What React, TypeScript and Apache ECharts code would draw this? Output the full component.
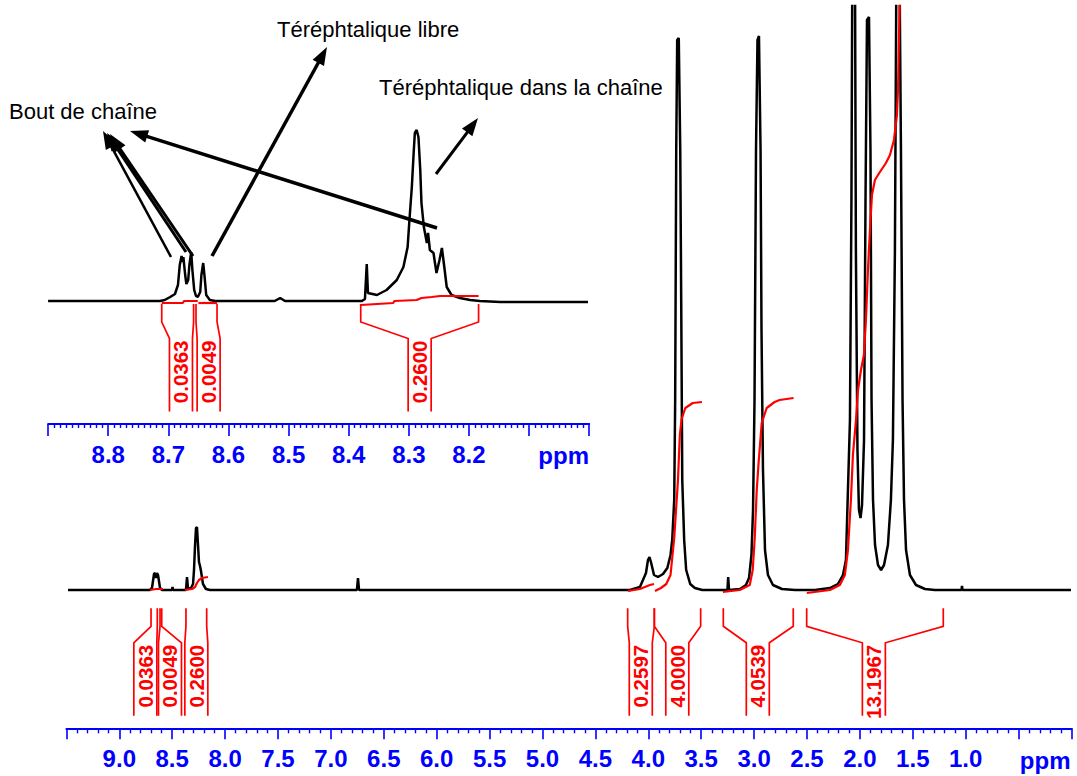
import React, { useEffect, useRef } from "react";
import * as echarts from "echarts";

const FONT = "'Liberation Sans', Arial, sans-serif";
const BLUE = "#0000ff";
const RED = "#ff0000";

// ---------- main spectrum: [ppm, intensity] ----------
const mainSpectrum: [number, number][] = [
  [9.485, 0], [8.71, 0], [8.691, 2], [8.672, 16], [8.662, 17], [8.653, 12], [8.644, 17], [8.634, 15], [8.615, 2], [8.596, 0],
  [8.502, 0], [8.497, 3], [8.492, 0],
  [8.37, 0], [8.36, 13], [8.35, 1], [8.322, 2], [8.303, 6], [8.294, 20], [8.284, 45], [8.275, 62], [8.266, 63], [8.256, 45],
  [8.247, 28], [8.237, 24], [8.228, 19], [8.209, 6], [8.181, 1], [8.143, 0],
  [6.754, 0], [6.744, 12], [6.734, 0],
  [4.173, 0], [4.079, 3], [4.022, 17], [4.003, 30], [3.989, 33], [3.975, 28], [3.946, 15], [3.908, 13], [3.861, 16],
  [3.82, 22], [3.79, 35], [3.774, 50], [3.755, 90], [3.746, 190], [3.736, 440], [3.727, 550], [3.712, 552], [3.698, 440],
  [3.689, 290], [3.679, 110], [3.661, 50], [3.642, 20], [3.604, 6], [3.56, 2], [3.49, 0],
  [3.252, 0], [3.245, 13], [3.237, 0],
  [3.133, 1], [3.077, 5], [3.048, 12], [3.025, 35], [3.01, 80], [2.996, 190], [2.982, 440], [2.968, 550], [2.954, 554],
  [2.939, 440], [2.93, 260], [2.916, 120], [2.897, 40], [2.869, 15], [2.822, 5], [2.737, 1], [2.614, 0],
  [2.425, 0], [2.283, 2], [2.208, 6], [2.16, 15], [2.132, 30], [2.113, 100], [2.094, 170], [2.08, 390], [2.071, 640],
  [2.047, 640], [2.038, 340], [2.023, 140], [2.009, 80], [1.994, 72], [1.98, 85], [1.961, 150], [1.947, 390], [1.933, 570],
  [1.914, 573], [1.9, 440], [1.89, 190], [1.876, 90], [1.857, 45], [1.829, 25], [1.8, 20], [1.772, 25], [1.735, 45],
  [1.707, 90], [1.688, 150], [1.669, 340], [1.654, 640], [1.627, 640], [1.612, 440], [1.597, 190], [1.583, 90],
  [1.564, 40], [1.527, 15], [1.47, 5], [1.385, 1], [1.291, 0],
  [1.04, 0], [1.035, 4], [1.03, 0], [0.005, 0],
];

// integral curves of the main spectrum (null = break)
const mainIntegral: ([number, number] | null)[] = [
  [8.71, 0], [8.653, 1], [8.587, 1], null,
  [8.379, 0], [8.313, 1], [8.284, 3], [8.266, 7], [8.247, 10], [8.218, 12], [8.162, 13], null,
  [4.193, -1], [4.079, 1], [3.985, 5], [3.946, 6], null,
  [3.937, -1], [3.88, 2], [3.83, 6], [3.79, 15], [3.755, 52], [3.72, 109], [3.702, 155], [3.685, 171],
  [3.65, 182], [3.58, 187], [3.493, 188], null,
  [3.295, -2], [3.135, 0], [3.041, 5], [3.013, 20], [2.994, 52], [2.975, 100], [2.957, 128], [2.928, 167],
  [2.881, 182], [2.806, 188], [2.759, 190], [2.627, 192], null,
  [2.502, -3], [2.283, 0], [2.189, 5], [2.142, 15], [2.113, 40], [2.085, 90], [2.066, 135], [2.037, 170],
  [2.018, 200], [1.99, 220], [1.962, 235], [1.943, 270], [1.924, 320], [1.905, 360], [1.886, 395], [1.858, 410],
  [1.811, 418], [1.754, 427], [1.716, 435], [1.678, 450], [1.65, 475], [1.64, 500], [1.631, 550], [1.621, 600],
];

const mainBracketStart = [8.7, 8.615, 8.37, 4.195, 3.943, 3.291, 2.503];
const mainBracketEnd = [8.641, 8.599, 8.174, 3.943, 3.505, 2.63, 1.212];
const mainBracketCenter = [8.754, 8.521, 8.272, 4.071, 3.726, 2.965, 1.868];
const mainBracketLabels = ["0.0363", "0.0049", "0.2600", "0.2597", "4.0000", "4.0539", "13.1967"];

// ---------- inset (zoom 8.0 – 8.9 ppm) ----------
const insetSpectrum: [number, number][] = [
  [8.9, 0], [8.714, 0], [8.706, 1], [8.697, 4], [8.689, 7], [8.684, 16], [8.681, 36], [8.678, 45], [8.676, 39],
  [8.675, 44], [8.672, 26], [8.67, 17], [8.667, 21], [8.665, 36], [8.662, 49], [8.66, 31], [8.657, 11], [8.654, 5],
  [8.651, 4], [8.647, 9], [8.645, 26], [8.642, 38], [8.64, 26], [8.637, 6], [8.631, 1], [8.622, 0],
  [8.523, 0], [8.514, 3], [8.506, 0],
  [8.378, 0], [8.373, 2], [8.37, 37], [8.368, 8], [8.353, 6], [8.337, 11], [8.32, 21], [8.309, 34], [8.302, 54],
  [8.299, 81], [8.295, 114], [8.292, 148], [8.29, 168], [8.287, 171], [8.284, 164], [8.281, 131], [8.279, 98],
  [8.275, 74], [8.27, 58], [8.268, 68], [8.265, 51], [8.259, 48], [8.254, 28], [8.249, 41], [8.245, 53], [8.241, 34],
  [8.237, 14], [8.229, 6], [8.215, 3], [8.198, 1], [8.182, 0], [8.148, -1], [8.002, -1],
];

const insetIntegral: ([number, number] | null)[] = [
  [8.711, -2], [8.676, -2], [8.674, 0], [8.651, 0], null,
  [8.65, -2], [8.619, -2], null,
  [8.38, -4], [8.326, -2], [8.324, 0], [8.287, 1], [8.279, 3], [8.262, 4], [8.248, 5], [8.184, 5],
];

const insetBracketStart = [8.711, 8.654, 8.38];
const insetBracketEnd = [8.658, 8.619, 8.184];
const insetBracketCenter = [8.679, 8.633, 8.282];
const insetBracketLabels = ["0.0363", "0.0049", "0.2600"];

// ---------- annotations ----------
const annotationTexts = ["Bout de chaîne", "Téréphtalique libre", "Téréphtalique dans la chaîne"];

function splitSegments(arr: ([number, number] | null)[]) {
  const segs: [number, number][][] = [];
  let cur: [number, number][] = [];
  for (const p of arr) {
    if (p === null) {
      if (cur.length) segs.push(cur);
      cur = [];
    } else cur.push(p);
  }
  if (cur.length) segs.push(cur);
  return segs;
}

function bracketSeries(idx: number, starts: number[], ends: number[], centers: number[], labels: string[]) {
  return {
    type: "custom",
    xAxisIndex: idx,
    yAxisIndex: idx,
    silent: true,
    z: 5,
    data: starts.map((s, i) => [s, ends[i], centers[i], 0]),
    encode: { x: [0, 1, 2], y: 3 },
    renderItem: (params: any, api: any) => {
      const i = params.dataIndex;
      const cs = params.coordSys;
      const axisY = cs.y + cs.height;
      const xa = api.coord([api.value(0), 0])[0];
      const xb = api.coord([api.value(1), 0])[0];
      const xc = api.coord([api.value(2), 0])[0];
      const l = Math.min(xa, xb);
      const r = Math.max(xa, xb);
      const yTop = axisY - 120;
      const yKnee = axisY - 102;
      const yLeg = axisY - 85.5;
      const yBot = axisY - 12.5;
      const hw = 11.5;
      const ls = { stroke: RED, lineWidth: 1.7, fill: "none" };
      return {
        type: "group",
        children: [
          { type: "polyline", shape: { points: [[l, yTop], [l, yKnee], [xc - hw, yLeg], [xc - hw, yBot]] }, style: ls },
          { type: "polyline", shape: { points: [[r, yTop], [r, yKnee], [xc + hw, yLeg], [xc + hw, yBot]] }, style: ls },
          {
            type: "text",
            x: xc,
            y: axisY - 83.5,
            rotation: Math.PI / 2,
            style: {
              text: labels[i],
              align: "right",
              verticalAlign: "middle",
              textAlign: "right",
              textVerticalAlign: "middle",
              font: `bold 20.5px ${FONT}`,
              fill: RED,
            },
          },
        ],
      };
    },
  };
}

function arrow(x1: number, y1: number, x2: number, y2: number, w: number) {
  const dx = x2 - x1;
  const dy = y2 - y1;
  const len = Math.sqrt(dx * dx + dy * dy);
  const ux = dx / len;
  const uy = dy / len;
  const hl = 18;
  const hh = 6.5;
  const bx = x2 - ux * hl;
  const by = y2 - uy * hl;
  return [
    { type: "line", shape: { x1, y1, x2: bx + ux * 2, y2: by + uy * 2 }, style: { stroke: "#000", lineWidth: w }, silent: true },
    {
      type: "polygon",
      shape: { points: [[x2, y2], [bx - uy * hh, by + ux * hh], [bx + uy * hh, by - ux * hh]] },
      style: { fill: "#000" },
      silent: true,
    },
  ];
}

function xAxisCfg(idx: number, min: number, max: number, interval: number, minorSplit: number, minorLen: number,
  majorLen: number, show: (v: number) => boolean) {
  return {
    type: "value",
    gridIndex: idx,
    min,
    max,
    interval,
    inverse: true,
    splitLine: { show: false },
    axisLine: { show: true, onZero: false, lineStyle: { color: BLUE, width: 2 } },
    axisTick: { show: true, length: majorLen, lineStyle: { color: BLUE, width: 1.6 } },
    minorTick: { show: true, splitNumber: minorSplit, length: minorLen, lineStyle: { color: BLUE, width: 1.4 } },
    minorSplitLine: { show: false },
    axisLabel: {
      show: true,
      color: BLUE,
      fontFamily: FONT,
      fontWeight: "bold",
      fontSize: 24,
      margin: 18,
      formatter: (v: number) => (show(v) ? v.toFixed(1) : ""),
    },
  };
}

function lineSeries(idx: number, data: [number, number][], color: string, width: number) {
  return {
    type: "line",
    xAxisIndex: idx,
    yAxisIndex: idx,
    data,
    showSymbol: false,
    symbol: "none",
    clip: true,
    silent: true,
    lineStyle: { color, width },
    itemStyle: { color },
  };
}

export default function App() {
  const ref = useRef<HTMLDivElement>(null);
  useEffect(() => {
    const chart = echarts.init(ref.current!, null, { renderer: "svg" });
    const series: any[] = [];
    series.push(lineSeries(0, mainSpectrum, "#000", 2.5));
    splitSegments(mainIntegral).forEach((s) => series.push(lineSeries(0, s, RED, 2.2)));
    series.push(bracketSeries(0, mainBracketStart, mainBracketEnd, mainBracketCenter, mainBracketLabels));
    series.push(lineSeries(1, insetSpectrum, "#000", 2.5));
    splitSegments(insetIntegral).forEach((s) => series.push(lineSeries(1, s, RED, 2.2)));
    series.push(bracketSeries(1, insetBracketStart, insetBracketEnd, insetBracketCenter, insetBracketLabels));

    const textStyle = (t: string) => ({
      text: t,
      font: `22px ${FONT}`,
      fill: "#000",
      align: "left",
      verticalAlign: "middle",
      textAlign: "left",
      textVerticalAlign: "middle",
    });
    const ppmStyle = {
      text: "ppm",
      font: `bold 24px ${FONT}`,
      fill: BLUE,
      align: "right",
      verticalAlign: "middle",
      textAlign: "right",
      textVerticalAlign: "middle",
    };

    const graphics: any[] = [
      { type: "text", x: 9, y: 111.7, style: textStyle(annotationTexts[0]), silent: true },
      { type: "text", x: 277, y: 29.7, style: textStyle(annotationTexts[1]), silent: true },
      { type: "text", x: 379, y: 87.5, style: textStyle(annotationTexts[2]), silent: true },
      { type: "text", x: 1070.5, y: 760, style: ppmStyle, silent: true },
      { type: "text", x: 589, y: 455, style: ppmStyle, silent: true },
      ...arrow(171, 257, 103, 131, 2.5),
      ...arrow(186, 252, 107, 133, 3),
      ...arrow(193, 256, 110, 134, 3),
      ...arrow(212, 256, 327, 47, 3.5),
      ...arrow(437, 228, 130, 131, 3.5),
      ...arrow(436, 174, 478, 118, 3),
    ];

    chart.setOption({
      animation: false,
      backgroundColor: "#ffffff",
      grid: [
        { left: 66.4, width: 1005.1, top: 6, height: 722.3 },
        { left: 48.1, width: 541.1, top: 100, height: 324 },
      ],
      xAxis: [
        xAxisCfg(0, 0, 9.5, 0.5, 5, 5, 11, (v) => v > 0.95 && v < 9.05),
        xAxisCfg(1, 8.0, 8.9, 0.1, 10, 4, 12, (v) => v > 8.15 && v < 8.85),
      ],
      yAxis: [
        { type: "value", gridIndex: 0, min: -138.3, max: 584, show: false },
        { type: "value", gridIndex: 1, min: -123, max: 201, show: false },
      ],
      series,
      graphic: { elements: graphics },
    });
    return () => chart.dispose();
  }, []);
  return (
    <div
      ref={ref}
      style={{ position: "fixed", left: 0, top: 0, width: 1077, height: 776, background: "#fff" }}
    />
  );
}
